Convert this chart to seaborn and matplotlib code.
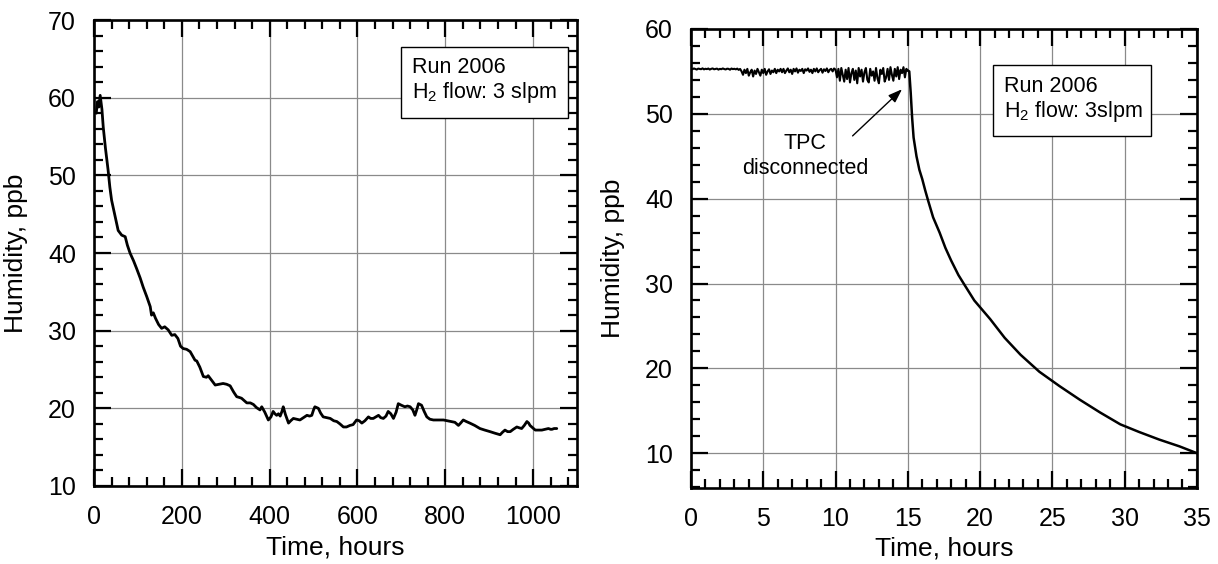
import numpy as np
import pandas as pd
import matplotlib
matplotlib.use('Agg')
import matplotlib.pyplot as plt
import seaborn as sns
from matplotlib.ticker import MultipleLocator
from matplotlib.patches import Rectangle

# ---------------- data ----------------
left_hours = [
    5, 8, 11, 14, 18, 21, 26, 32, 36, 40,
    47, 55, 63, 71, 76, 82, 90, 97, 105, 112,
    120, 128, 131, 135, 140, 147, 154, 161, 169, 177,
    184, 191, 197, 203, 211, 219, 226, 230, 234, 241,
    249, 256, 260, 268, 276, 285, 294, 302, 310, 318,
    325, 331, 336, 342, 348, 356, 363, 370, 378, 382,
    389, 397, 403, 408, 412, 416, 420, 424, 428, 431,
    436, 443, 448, 454, 462, 469, 477, 485, 491, 496,
    500, 503, 507, 511, 516, 522, 530, 538, 546, 553,
    560, 568, 575, 583, 590, 598, 604, 610, 617, 625,
    630, 636, 642, 648, 653, 659, 665, 670, 676, 682,
    688, 693, 700, 708, 714, 720, 726, 731, 735, 739,
    746, 752, 758, 765, 773, 785, 796, 805, 815, 822,
    830, 835, 841, 848, 856, 867, 879, 890, 902, 913,
    925, 930, 936, 942, 948, 955, 963, 968, 974, 980,
    986, 990, 993, 999, 1005, 1012, 1020, 1028, 1035, 1040,
    1043, 1048, 1054,
]
left_humidity = [
    58.0, 59.5, 58.8, 60.3, 58.5, 56.2, 53.5, 50.7, 48.5, 46.8,
    45.0, 42.9, 42.3, 42.1, 41.0, 40.0, 39.0, 38.0, 36.8, 35.6,
    34.4, 33.1, 32.0, 32.3, 31.6, 30.8, 30.3, 30.5, 30.1, 29.4,
    29.5, 29.0, 28.0, 27.7, 27.6, 27.3, 26.6, 26.2, 26.1, 25.3,
    24.1, 24.0, 24.2, 23.6, 23.0, 23.1, 23.2, 23.1, 22.9, 22.1,
    21.5, 21.4, 21.3, 21.0, 20.7, 20.7, 20.5, 20.1, 19.8, 20.2,
    19.5, 18.5, 18.9, 19.6, 19.3, 19.1, 19.3, 19.0, 19.6, 20.2,
    19.2, 18.1, 18.4, 18.7, 18.6, 18.5, 18.8, 19.1, 19.0, 19.1,
    19.8, 20.2, 20.1, 20.0, 19.4, 18.9, 18.8, 18.7, 18.4, 18.3,
    18.0, 17.6, 17.6, 17.8, 17.9, 18.5, 18.4, 18.1, 18.4, 18.9,
    18.7, 18.7, 18.9, 19.1, 18.8, 18.7, 19.0, 19.6, 19.3, 18.7,
    19.5, 20.6, 20.4, 20.2, 20.3, 20.2, 19.8, 19.1, 19.8, 20.6,
    20.4, 19.6, 18.9, 18.6, 18.5, 18.5, 18.5, 18.4, 18.3, 18.2,
    17.8, 18.1, 18.5, 18.3, 18.1, 17.8, 17.4, 17.2, 17.0, 16.8,
    16.6, 16.9, 17.2, 17.0, 17.0, 17.3, 17.6, 17.5, 17.4, 17.8,
    18.3, 18.1, 17.8, 17.5, 17.2, 17.2, 17.2, 17.3, 17.4, 17.3,
    17.3, 17.4, 17.4,
]

# right panel: plateau sampled every 0.1 h from 0 to 15.0 h
right_plateau_step = 0.1
right_plateau_humidity = [
    # 0.0 - 3.4 h
    55.30, 55.25, 55.35, 55.28, 55.22, 55.33, 55.30, 55.26, 55.36, 55.24,
    55.31, 55.27, 55.34, 55.22, 55.30, 55.35, 55.25, 55.29, 55.33, 55.21,
    55.30, 55.26, 55.35, 55.28, 55.23, 55.32, 55.30, 55.20, 55.34, 55.27,
    55.31, 55.24, 55.33, 55.18, 55.29,
    # 3.5 - 6.2 h
    55.0, 54.6, 55.2, 54.8, 55.3, 54.5, 54.9, 55.2, 54.4, 55.1,
    54.7, 55.3, 54.9, 54.5, 55.2, 54.8, 55.3, 54.6, 55.0, 55.25,
    54.7, 55.1, 54.9, 55.3, 54.8, 55.2, 55.0, 55.3,
    # 6.3 - 10.0 h
    54.9, 55.3, 54.8, 55.1, 55.35, 54.9, 55.2, 54.7, 55.3, 55.0,
    55.35, 54.85, 55.2, 55.05, 55.3, 54.8, 55.25, 55.1, 55.35, 54.95,
    55.2, 54.8, 55.3, 55.0, 55.35, 54.9, 55.15, 55.3, 54.85, 55.25,
    55.05, 55.35, 54.9, 55.2, 55.3, 55.0, 55.35, 55.2,
    # 10.1 - 15.0 h
    54.3, 55.3, 53.9, 55.4, 54.6, 53.8, 55.2, 54.1, 55.4, 53.7,
    54.8, 55.3, 54.0, 55.1, 53.6, 55.4, 54.4, 55.2, 53.8, 54.9,
    55.4, 54.0, 53.7, 55.3, 54.5, 55.0, 53.9, 55.4, 54.2, 53.6,
    55.2, 54.7, 55.4, 53.8, 54.3, 55.3, 54.0, 55.5, 54.6, 53.9,
    55.3, 54.4, 55.5, 54.1, 55.2, 54.8, 55.5, 54.3, 55.3, 55.1,
]
right_decay_hours = [
    15.1, 15.2, 15.3, 15.4, 15.6, 15.8, 16.0, 16.2, 16.4, 16.75,
    17.2, 17.6, 18.0, 18.5, 18.9, 19.6, 20.2, 20.7, 21.7, 22.8,
    24.1, 25.5, 26.9, 28.3, 29.7, 31.0, 32.4, 33.8, 35.0,
]
right_decay_humidity = [
    55.0, 52.5, 49.5, 47.2, 45.0, 43.4, 42.3, 41.0, 39.8, 37.8,
    36.0, 34.2, 32.7, 31.0, 29.9, 28.0, 26.8, 25.8, 23.6, 21.6,
    19.6, 17.9, 16.3, 14.8, 13.4, 12.5, 11.6, 10.8, 10.0,
]

left_xticks = [0, 200, 400, 600, 800, 1000]
left_yticks = [10, 20, 30, 40, 50, 60, 70]
right_xticks = [0, 5, 10, 15, 20, 25, 30, 35]
right_yticks = [10, 20, 30, 40, 50, 60]

# ---------------- frames ----------------
plateau_hours = list(np.arange(len(right_plateau_humidity)) * right_plateau_step)
df_left = pd.DataFrame({'hours': left_hours, 'humidity': left_humidity})
df_plateau = pd.DataFrame({'hours': plateau_hours, 'humidity': right_plateau_humidity})
df_decay = pd.DataFrame({'hours': [plateau_hours[-1]] + right_decay_hours,
                         'humidity': [right_plateau_humidity[-1]] + right_decay_humidity})

# ---------------- style ----------------
sns.set_theme(style='ticks')
plt.rcParams['font.family'] = ['Liberation Sans', 'DejaVu Sans']
plt.rcParams['mathtext.fontset'] = 'custom'
plt.rcParams['mathtext.rm'] = 'Liberation Sans'
plt.rcParams['mathtext.default'] = 'regular'
for k in ['text.color', 'axes.labelcolor', 'xtick.color', 'ytick.color', 'axes.edgecolor']:
    plt.rcParams[k] = 'black'

fig = plt.figure(figsize=(12.18, 5.64), dpi=100)
ax1 = fig.add_axes([0.0772, 0.1383, 0.3965, 0.8262])
ax2 = fig.add_axes([0.5673, 0.1348, 0.4154, 0.8138])

sns.lineplot(data=df_left, x='hours', y='humidity', ax=ax1, color='black',
             linewidth=2.0, estimator=None, sort=False)
sns.lineplot(data=df_plateau, x='hours', y='humidity', ax=ax2, color='black',
             linewidth=1.5, estimator=None, sort=False)
sns.lineplot(data=df_decay, x='hours', y='humidity', ax=ax2, color='black',
             linewidth=1.8, estimator=None, sort=False)


def style(ax, xt, yt, xminor, yminor, xlim, ylim):
    ax.set_xlim(*xlim)
    ax.set_ylim(*ylim)
    ax.set_xticks(xt)
    ax.set_yticks(yt)
    ax.xaxis.set_minor_locator(MultipleLocator(xminor))
    ax.yaxis.set_minor_locator(MultipleLocator(yminor))
    ax.tick_params(which='both', direction='in', top=True, right=True,
                   width=1.6, color='black', labelsize=18)
    ax.tick_params(which='major', length=12)
    ax.tick_params(which='minor', length=6.5)
    ax.tick_params(axis='x', which='major', pad=14)
    ax.tick_params(axis='y', which='major', pad=13)
    for s in ax.spines.values():
        s.set_linewidth(1.9)
        s.set_color('black')
        s.set_visible(True)
    ax.grid(True, which='major', color='#8a8a8a', linewidth=0.9)
    ax.set_axisbelow(True)
    ax.set_xlabel('Time, hours', fontsize=19)
    ax.set_ylabel('Humidity, ppb', fontsize=19)


style(ax1, left_xticks, left_yticks, 40, 2, (0, 1100), (10, 70))
style(ax2, right_xticks, right_yticks, 1, 2, (0, 35), (5.9, 60))

ax1.xaxis.set_label_coords(0.5, -0.106)
ax1.yaxis.set_label_coords(-0.136, 0.5)
ax2.xaxis.set_label_coords(0.5, -0.106)
ax2.yaxis.set_label_coords(-0.131, 0.5)

# info boxes
for ax, (x0, y0, x1, y1), tx, b1, b2, txt in [
    (ax1, (0.6356, 0.7897, 0.9814, 0.942), 0.6584, 0.8863, 0.8326, 'H$_2$ flow: 3 slpm'),
    (ax2, (0.5968, 0.7669, 0.909, 0.9216), 0.6186, 0.862, 0.8076, 'H$_2$ flow: 3slpm'),
]:
    ax.add_patch(Rectangle((x0, y0), x1 - x0, y1 - y0, transform=ax.transAxes,
                           facecolor='white', edgecolor='black', linewidth=1.0, zorder=5))
    ax.text(tx, b1, 'Run 2006', transform=ax.transAxes, va='baseline', ha='left',
            fontsize=15.5, zorder=6)
    ax.text(tx, b2, txt, transform=ax.transAxes, va='baseline', ha='left',
            fontsize=15.5, zorder=6)

# annotation
ax2.text(7.88, 45.88, 'TPC', ha='center', va='baseline', fontsize=15.5)
ax2.text(7.88, 42.94, 'disconnected', ha='center', va='baseline', fontsize=15.5)
ax2.annotate('', xy=(14.6, 52.9), xytext=(11.18, 47.4),
             arrowprops=dict(arrowstyle='-|>,head_length=0.7,head_width=0.25',
                             color='black', lw=1.0, shrinkA=0, shrinkB=0))

fig.savefig('out.png', dpi=100)
